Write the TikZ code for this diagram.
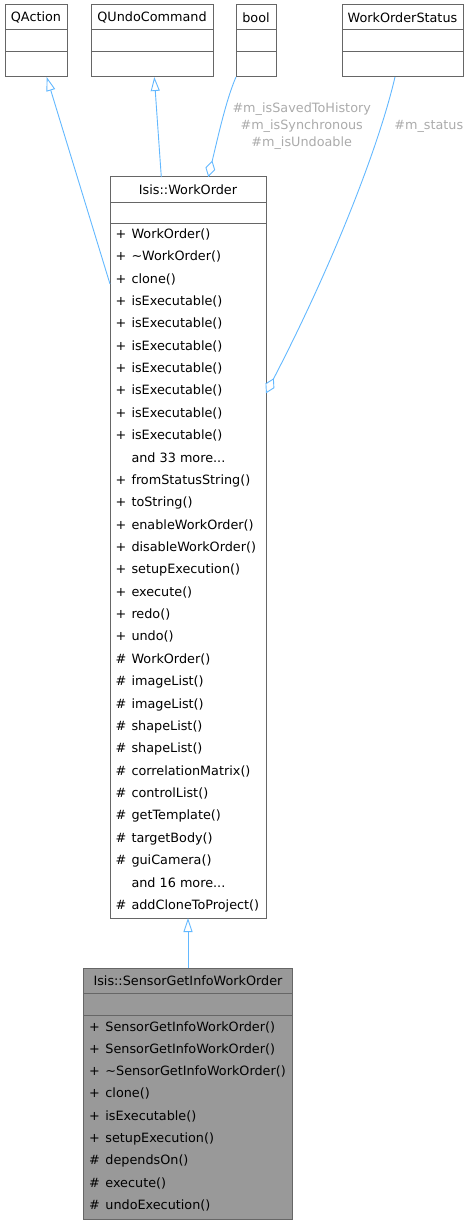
\documentclass[tikz,border=0pt]{standalone}
\usepackage{fontspec}
\setmainfont{DejaVu Sans}
\usetikzlibrary{arrows.meta}
\definecolor{edgeblue}{HTML}{63B8FF}
\definecolor{boxgray}{HTML}{666666}
\definecolor{lblgray}{HTML}{ABABAB}
\definecolor{focusfill}{HTML}{999999}
\newcommand\mytdots{...}
\begin{document}
\begin{tikzpicture}[x=1pt,y=-1pt,
  every node/.style={font=\fontsize{12.8}{16.7}\selectfont},
  classbox/.style={draw=boxgray,line width=1pt,fill=white,rectangle,inner sep=0pt,outer sep=0pt},
  focusbox/.style={classbox,fill=focusfill},
  sepline/.style={draw=boxgray,line width=1pt},
  title/.style={inner sep=0pt,anchor=center},
  member/.style={inner sep=0pt,anchor=base west},
  inherit/.style={draw=edgeblue,line width=0.9pt,-{Triangle[open,length=14pt,width=9pt,fill=white]}},
  aggr/.style={draw=edgeblue,line width=0.9pt,{Diamond[open,length=17pt,width=10pt,fill=white]}-},
  lbl/.style={text=lblgray,inner sep=0pt,align=center}]
\useasboundingbox (0,0) rectangle (469,1225);

% top classes
\node[classbox,minimum width=62pt,minimum height=72pt] (qaction) at (36,41) {};
\node[classbox,minimum width=122pt,minimum height=72pt] (qundo) at (152,41) {};
\node[classbox,minimum width=40pt,minimum height=72pt] (bool) at (256,41) {};
\node[classbox,minimum width=121pt,minimum height=72pt] (wos) at (402.5,41) {};
\node[title] (qaction-t) at (36,17.5) {QAction};
\node[title] (qundo-t) at (152,17.5) {QUndoCommand};
\node[title] (bool-t) at (256,17.5) {bool};
\node[title] (wos-t) at (402.5,17.5) {WorkOrderStatus};
\foreach \b in {qaction,qundo,bool,wos}{
  \draw[sepline] ([yshift=-25pt]\b.north west) -- ([yshift=-25pt]\b.north east);
  \draw[sepline] ([yshift=-47pt]\b.north west) -- ([yshift=-47pt]\b.north east);
}

% WorkOrder
\node[classbox,minimum width=156pt,minimum height=741pt] (wo) at (188,547.5) {};
\node[title] (wo-t) at (188,189.5) {Isis::WorkOrder};
\draw[sepline] ([yshift=-25pt]wo.north west) -- ([yshift=-25pt]wo.north east);
\draw[sepline] ([yshift=-46.5pt]wo.north west) -- ([yshift=-46.5pt]wo.north east);
\foreach [count=\i from 0] \p/\n in {
  +/WorkOrder(), +/\textasciitilde WorkOrder(), +/clone(),
  +/isExecutable(), +/isExecutable(), +/isExecutable(), +/isExecutable(),
  +/isExecutable(), +/isExecutable(), +/isExecutable(),
  /and 33 more\mytdots, +/fromStatusString(), +/toString(), +/enableWorkOrder(),
  +/disableWorkOrder(), +/setupExecution(), +/execute(), +/redo(), +/undo(),
  \#/WorkOrder(), \#/imageList(), \#/imageList(), \#/shapeList(), \#/shapeList(),
  \#/correlationMatrix(), \#/controlList(), \#/getTemplate(), \#/targetBody(),
  \#/guiCamera(), /and 16 more\mytdots, \#/addCloneToProject()}{
  \node[member] (wo-p\i) at (115.3,{238.3+22.37*\i}) {\p};
  \node[member] (wo-n\i) at (131.3,{238.3+22.37*\i}) {\n};
}

% SensorGetInfoWorkOrder
\node[focusbox,minimum width=209.4pt,minimum height=251pt] (sensor) at (188,1093.8) {};
\node[title] (sensor-t) at (188,980.8) {Isis::SensorGetInfoWorkOrder};
\draw[sepline] ([yshift=-25pt]sensor.north west) -- ([yshift=-25pt]sensor.north east);
\draw[sepline] ([yshift=-46.7pt]sensor.north west) -- ([yshift=-46.7pt]sensor.north east);
\foreach [count=\i from 0] \p/\n in {
  +/SensorGetInfoWorkOrder(), +/SensorGetInfoWorkOrder(),
  +/\textasciitilde SensorGetInfoWorkOrder(), +/clone(), +/isExecutable(),
  +/setupExecution(), \#/dependsOn(), \#/execute(), \#/undoExecution()}{
  \node[member] (s-p\i) at (89,{1031+22.3*\i}) {\p};
  \node[member] (s-n\i) at (105.2,{1031+22.3*\i}) {\n};
}

% inheritance edges
\draw[inherit] ([yshift=-107pt]wo.north west) -- ([xshift=10.7pt]qaction.south);
\draw[inherit] ([xshift=-26.7pt]wo.north) -- ([xshift=2.3pt]qundo.south);
\draw[inherit] (sensor.north) -- (wo.south);

% aggregation edges
\draw[aggr] ([xshift=20.3pt]wo.north) .. controls (218,137) and (226,100) .. (bool.south west);
\draw[aggr] ([yshift=-216.3pt]wo.north east) .. controls (330,270) and (378,150) .. ([xshift=-7.5pt]wos.south);

% labels
\node[lbl] (lbl-bool) at (301.7,126.2) {\#m\_isSavedToHistory\\\#m\_isSynchronous\\\#m\_isUndoable};
\node[lbl] (lbl-wos) at (428.8,126.2) {\#m\_status};
\end{tikzpicture}
\end{document}
